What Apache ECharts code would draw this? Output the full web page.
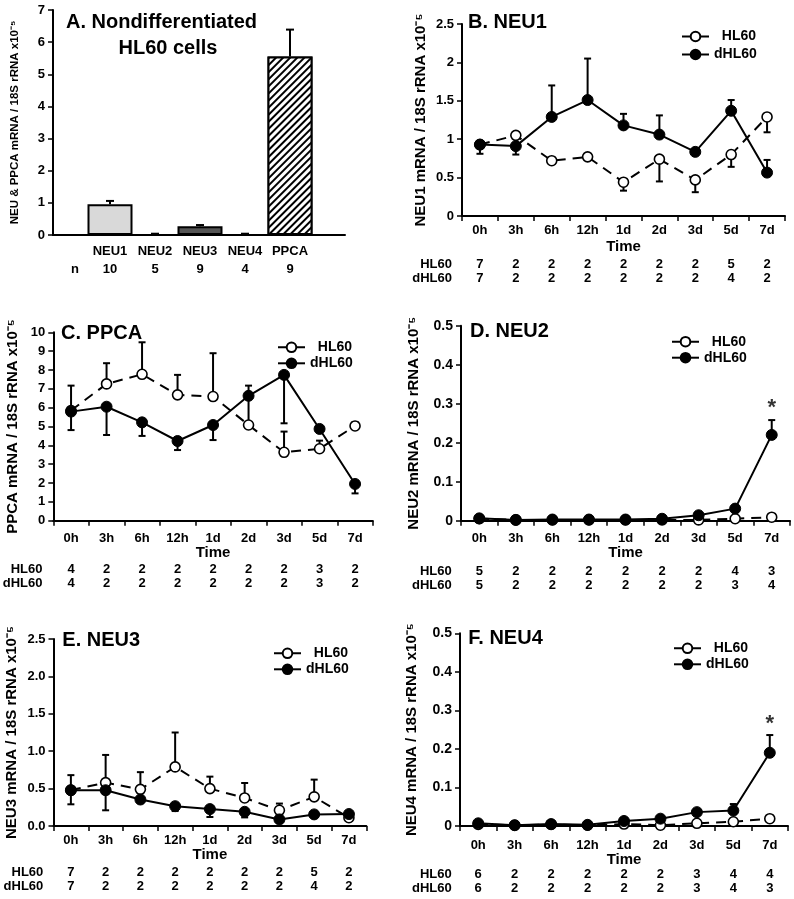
<!DOCTYPE html>
<html><head><meta charset="utf-8">
<script src="https://cdn.jsdelivr.net/npm/echarts@6/dist/echarts.min.js"></script>
<style>html,body{margin:0;padding:0;background:#fff}#c{width:794px;height:899px}</style>
</head><body><div id="c"></div>
<script>
const FONT = '"Liberation Sans", Arial, Helvetica, sans-serif';

// ---------- Panel A data ----------
const catsA = ['NEU1', 'NEU2', 'NEU3', 'NEU4', 'PPCA'];
const valsA = [0.96, 0.02, 0.27, 0.02, 5.55];
const errA  = [1.06, 0.04, 0.31, 0.04, 6.39];
const nA    = [10, 5, 9, 4, 9];

// ---------- time-course categories ----------
const timeCats = ['0h', '3h', '6h', '12h', '1d', '2d', '3d', '5d', '7d'];

// B. NEU1
const neu1HL60     = [0.93, 1.05, 0.72, 0.77, 0.44, 0.74, 0.47, 0.80, 1.29];
const neu1HL60Err  = [0.81, null, null, null, 0.33, 0.45, 0.31, 0.64, 1.09];
const neu1dHL60    = [0.93, 0.91, 1.29, 1.51, 1.18, 1.06, 0.835, 1.37, 0.565];
const neu1dHL60Err = [null, 0.80, 1.70, 2.05, 1.33, 1.31, null, 1.51, 0.73];
const neu1NHL60    = [7, 2, 2, 2, 2, 2, 2, 5, 2];
const neu1NdHL60   = [7, 2, 2, 2, 2, 2, 2, 4, 2];

// C. PPCA
const ppcaHL60     = [5.85, 7.26, 7.77, 6.68, 6.59, 5.08, 3.63, 3.82, 5.03];
const ppcaHL60Err  = [7.17, 8.36, 9.47, 7.74, 8.89, 7.17, 4.73, 4.25, 5.22];
const ppcadHL60    = [5.79, 6.05, 5.22, 4.23, 5.08, 6.63, 7.74, 4.87, 1.95];
const ppcadHL60Err = [4.81, 4.55, 4.50, 3.75, 4.28, null, 5.17, null, 1.45];
const ppcaNHL60    = [4, 2, 2, 2, 2, 2, 2, 3, 2];
const ppcaNdHL60   = [4, 2, 2, 2, 2, 2, 2, 3, 2];

// D. NEU2
const neu2HL60     = [0.005, 0.002, 0.002, 0.002, 0.002, 0.002, 0.002, 0.005, 0.009];
const neu2HL60Err  = [null, null, null, null, null, null, null, null, null];
const neu2dHL60    = [0.006, 0.002, 0.003, 0.003, 0.003, 0.005, 0.014, 0.031, 0.22];
const neu2dHL60Err = [null, null, null, null, null, null, null, null, 0.258];
const neu2NHL60    = [5, 2, 2, 2, 2, 2, 2, 4, 3];
const neu2NdHL60   = [5, 2, 2, 2, 2, 2, 2, 3, 4];
const neu2Star     = [null, null, null, null, null, null, null, null, 0.29];

// E. NEU3
const neu3HL60     = [0.48, 0.58, 0.49, 0.79, 0.50, 0.375, 0.21, 0.39, 0.11];
const neu3HL60Err  = [0.68, 0.95, 0.72, 1.25, 0.66, 0.575, 0.30, 0.62, null];
const neu3dHL60    = [0.478, 0.478, 0.354, 0.265, 0.226, 0.19, 0.088, 0.155, 0.16];
const neu3dHL60Err = [0.29, 0.21, null, 0.20, 0.12, 0.115, null, null, null];
const neu3NHL60    = [7, 2, 2, 2, 2, 2, 2, 5, 2];
const neu3NdHL60   = [7, 2, 2, 2, 2, 2, 2, 4, 2];

// F. NEU4
const neu4HL60     = [0.004, 0.002, 0.004, 0.002, 0.005, 0.002, 0.007, 0.011, 0.019];
const neu4HL60Err  = [null, null, null, null, null, null, null, null, null];
const neu4dHL60    = [0.007, 0.002, 0.005, 0.003, 0.013, 0.019, 0.036, 0.040, 0.19];
const neu4dHL60Err = [null, null, null, null, null, null, null, 0.057, 0.236];
const neu4NHL60    = [6, 2, 2, 2, 2, 2, 3, 4, 4];
const neu4NdHL60   = [6, 2, 2, 2, 2, 2, 3, 4, 3];
const neu4Star     = [null, null, null, null, null, null, null, null, 0.265];

// ---------- layout (positions / styles only) ----------
const panels = [
  { title: 'B. NEU1', tx: 468, ty: 22.7, yName: 'NEU1 mRNA / 18S rRNA x10⁻⁵', nameGap: 34, yFs: 13,
    grid: { left: 462, top: 24, width: 323, height: 192 }, yMax: 2.5, yInt: 0.5, yFix: null,
    hl: neu1HL60, hlE: neu1HL60Err, d: neu1dHL60, dE: neu1dHL60Err, nH: neu1NHL60, nD: neu1NdHL60, star: null,
    lblM: 7.5, timeGap: 23.5, cntM: 41, rowX: 452, rowY: 264, legL: 681, legT: 29.5, legGap: 4 },
  { title: 'C. PPCA', tx: 61, ty: 333.3, yName: 'PPCA mRNA / 18S rRNA x10⁻⁵', nameGap: 33, yFs: 13,
    grid: { left: 53.3, top: 332.3, width: 319.5, height: 188.4 }, yMax: 10, yInt: 1, yFix: null,
    hl: ppcaHL60, hlE: ppcaHL60Err, d: ppcadHL60, dE: ppcadHL60Err, nH: ppcaNHL60, nD: ppcaNdHL60, star: null,
    lblM: 10.8, timeGap: 23.5, cntM: 41.6, rowX: 42.5, rowY: 569.3, legL: 277, legT: 340.3, legGap: 2 },
  { title: 'D. NEU2', tx: 470, ty: 331, yName: 'NEU2 mRNA / 18S rRNA x10⁻⁵', nameGap: 40, yFs: 14,
    grid: { left: 461, top: 325.7, width: 329, height: 195 }, yMax: 0.5, yInt: 0.1, yFix: null,
    hl: neu2HL60, hlE: neu2HL60Err, d: neu2dHL60, dE: neu2dHL60Err, nH: neu2NHL60, nD: neu2NdHL60, star: neu2Star,
    lblM: 11.1, timeGap: 23.5, cntM: 43.3, rowX: 451.7, rowY: 571, legL: 671, legT: 334.7, legGap: 2 },
  { title: 'E. NEU3', tx: 62.3, ty: 640, yName: 'NEU3 mRNA / 18S rRNA x10⁻⁵', nameGap: 34, yFs: 13,
    grid: { left: 53.5, top: 639, width: 312.8, height: 187 }, yMax: 2.5, yInt: 0.5, yFix: 1,
    hl: neu3HL60, hlE: neu3HL60Err, d: neu3dHL60, dE: neu3dHL60Err, nH: neu3NHL60, nD: neu3NdHL60, star: null,
    lblM: 7.5, timeGap: 21.5, cntM: 39.7, rowX: 43.3, rowY: 872.7, legL: 273, legT: 646.3, legGap: 2 },
  { title: 'F. NEU4', tx: 468.3, ty: 638.3, yName: 'NEU4 mRNA / 18S rRNA x10⁻⁵', nameGap: 41, yFs: 14,
    grid: { left: 460, top: 633.3, width: 328, height: 192.7 }, yMax: 0.5, yInt: 0.1, yFix: null,
    hl: neu4HL60, hlE: neu4HL60Err, d: neu4dHL60, dE: neu4dHL60Err, nH: neu4NHL60, nD: neu4NdHL60, star: neu4Star,
    lblM: 12.5, timeGap: 23.2, cntM: 41.3, rowX: 451.7, rowY: 874.3, legL: 673, legT: 641.3, legGap: 2 }
];

function errRender(capHalf) {
  return function (params, api) {
    const x = api.value(0), v = api.value(1), e = api.value(2);
    const p0 = api.coord([x, v]);
    const p1 = api.coord([x, e]);
    return {
      type: 'group', children: [
        { type: 'line', shape: { x1: p0[0], y1: p0[1], x2: p1[0], y2: p1[1] }, style: { stroke: '#000', lineWidth: 2 } },
        { type: 'line', shape: { x1: p1[0] - capHalf, y1: p1[1], x2: p1[0] + capHalf, y2: p1[1] }, style: { stroke: '#000', lineWidth: 2 } }
      ]
    };
  };
}
function errData(vals, ends) {
  const out = [];
  vals.forEach((v, i) => { if (ends[i] != null) out.push([i, v, ends[i]]); });
  return out;
}
const bold = (size) => ({ fontFamily: FONT, fontWeight: 'bold', fontSize: size, color: '#000' });

const grids = [], xAxes = [], yAxes = [], series = [], legends = [], graphics = [];

// ---------- Panel A ----------
grids.push({ left: 53, top: 10, width: 292, height: 225 });          // 0: axes frame
grids.push({ left: 87.5, top: 10, width: 225, height: 225 });        // 1: bars
xAxes.push({ gridIndex: 0, type: 'value', min: 0, max: 1, axisLine: { show: true, lineStyle: { color: '#000', width: 2 } },
  axisTick: { show: false }, axisLabel: { show: false }, splitLine: { show: false } });
yAxes.push({ gridIndex: 0, type: 'value', min: 0, max: 7, interval: 1,
  axisLine: { show: true, lineStyle: { color: '#000', width: 2 } },
  axisTick: { show: true, length: 5, lineStyle: { color: '#000', width: 1.5 } },
  splitLine: { show: false }, axisLabel: Object.assign(bold(13), { margin: 8 }),
  name: 'NEU & PPCA mRNA / 18S rRNA x10⁻⁵', nameLocation: 'middle', nameGap: 32,
  nameTextStyle: bold(11.5) });
xAxes.push({ gridIndex: 1, type: 'category', data: catsA, axisLine: { show: false }, axisTick: { show: false },
  axisLabel: Object.assign(bold(13), { margin: 7, lineHeight: 18, interval: 0,
    formatter: (v, i) => v + '\n' + nA[i] }) });
yAxes.push({ gridIndex: 1, type: 'value', min: 0, max: 7, show: false });
const barStylesA = [
  { color: '#d9d9d9', borderColor: '#000', borderWidth: 2 },
  { color: '#000', borderWidth: 0 },
  { color: '#555', borderColor: '#000', borderWidth: 2 },
  { color: '#000', borderWidth: 0 },
  { color: '#fff', borderColor: '#000', borderWidth: 2,
    decal: { symbol: 'rect', symbolSize: 1, dashArrayX: [1, 0], dashArrayY: [1.6, 2.8], rotation: -Math.PI / 4, color: '#000', backgroundColor: '#fff' } }
];
series.push({ type: 'bar', xAxisIndex: 1, yAxisIndex: 1, barWidth: '100%', z: 2,
  data: valsA.map((v, i) => ({ value: v, itemStyle: barStylesA[i] })) });
series.push({ type: 'custom', xAxisIndex: 1, yAxisIndex: 1, z: 1, renderItem: errRender(4),
  encode: { x: 0, y: [1, 2] }, data: errData(valsA, errA) });
graphics.push({ type: 'text', x: 161.5, y: 22.7, style: { text: 'A. Nondifferentiated', fill: '#000', font: 'bold 20px ' + FONT, align: 'center', verticalAlign: 'middle', textAlign: 'center', textVerticalAlign: 'middle' } });
graphics.push({ type: 'text', x: 168, y: 48.3, style: { text: 'HL60 cells', fill: '#000', font: 'bold 20px ' + FONT, align: 'center', verticalAlign: 'middle', textAlign: 'center', textVerticalAlign: 'middle' } });
graphics.push({ type: 'text', x: 75, y: 269, style: { text: 'n', fill: '#000', font: 'bold 13px ' + FONT, align: 'center', verticalAlign: 'middle', textAlign: 'center', textVerticalAlign: 'middle' } });

// ---------- Panels B-F ----------
panels.forEach((p) => {
  const gi = grids.length;
  grids.push(p.grid);
  const xi = xAxes.length;
  xAxes.push({ gridIndex: gi, type: 'category', data: timeCats, position: 'bottom', boundaryGap: true,
    axisLine: { show: true, lineStyle: { color: '#000', width: 2 } },
    axisTick: { show: true, length: 5, lineStyle: { color: '#000', width: 1.5 } },
    axisLabel: Object.assign(bold(13), { margin: p.lblM, interval: 0 }),
    name: 'Time', nameLocation: 'middle', nameGap: p.timeGap, nameTextStyle: bold(15) });
  xAxes.push({ gridIndex: gi, type: 'category', data: timeCats, position: 'bottom',
    axisLine: { show: false }, axisTick: { show: false },
    axisLabel: Object.assign(bold(13), { margin: p.cntM, interval: 0, lineHeight: 14,
      formatter: (v, i) => p.nH[i] + '\n' + p.nD[i] }) });
  const yi = yAxes.length;
  yAxes.push({ gridIndex: gi, type: 'value', min: 0, max: p.yMax, interval: p.yInt,
    axisLine: { show: true, lineStyle: { color: '#000', width: 2 } },
    axisTick: { show: true, length: 5, lineStyle: { color: '#000', width: 1.5 } },
    splitLine: { show: false },
    axisLabel: Object.assign(bold(p.yFs), { margin: 8,
      formatter: (v) => p.yFix != null ? v.toFixed(p.yFix) : String(+v.toFixed(3)) }),
    name: p.yName, nameLocation: 'middle', nameGap: p.nameGap, nameTextStyle: bold(15) });
  series.push({ type: 'custom', name: 'HL60err', xAxisIndex: xi, yAxisIndex: yi, z: 1,
    renderItem: errRender(3.5), encode: { x: 0, y: [1, 2] }, data: errData(p.hl, p.hlE) });
  series.push({ type: 'custom', name: 'dHL60err', xAxisIndex: xi, yAxisIndex: yi, z: 1,
    renderItem: errRender(3.5), encode: { x: 0, y: [1, 2] }, data: errData(p.d, p.dE) });
  series.push({ type: 'line', name: 'HL60', xAxisIndex: xi, yAxisIndex: yi, z: 2, data: p.hl,
    symbol: 'circle', symbolSize: 10, showAllSymbol: true,
    lineStyle: { color: '#000', width: 2, type: [10, 7] },
    itemStyle: { color: '#fff', borderColor: '#000', borderWidth: 1.6 } });
  series.push({ type: 'line', name: 'dHL60', xAxisIndex: xi, yAxisIndex: yi, z: 3, data: p.d,
    symbol: 'circle', symbolSize: 11, showAllSymbol: true,
    lineStyle: { color: '#000', width: 2 },
    itemStyle: { color: '#000', borderColor: '#000', borderWidth: 1 } });
  if (p.star) {
    series.push({ type: 'scatter', xAxisIndex: xi, yAxisIndex: yi, z: 4, symbolSize: 1,
      itemStyle: { color: 'rgba(0,0,0,0)' },
      data: p.star.map((v, i) => [i, v]).filter(d => d[1] != null),
      label: { show: true, position: 'inside', formatter: '*', fontFamily: FONT, fontWeight: 'bold', fontSize: 22, color: '#000' } });
  }
  legends.push({ data: ['HL60', 'dHL60'], orient: 'vertical', left: p.legL, top: p.legT, padding: 0,
    itemWidth: 27, itemHeight: 12, itemGap: p.legGap, selectedMode: false,
    formatter: (n) => n === 'HL60' ? '  HL60' : n,
    textStyle: bold(14) });
  graphics.push({ type: 'text', x: p.tx, y: p.ty, style: { text: p.title, fill: '#000', font: 'bold 20px ' + FONT, align: 'left', verticalAlign: 'middle', textAlign: 'left', textVerticalAlign: 'middle' } });
  graphics.push({ type: 'text', x: p.rowX, y: p.rowY, style: { text: 'HL60', fill: '#000', font: 'bold 13px ' + FONT, align: 'right', verticalAlign: 'middle', textAlign: 'right', textVerticalAlign: 'middle' } });
  graphics.push({ type: 'text', x: p.rowX, y: p.rowY + 14, style: { text: 'dHL60', fill: '#000', font: 'bold 13px ' + FONT, align: 'right', verticalAlign: 'middle', textAlign: 'right', textVerticalAlign: 'middle' } });
});

const chart = echarts.init(document.getElementById('c'), null, { renderer: 'canvas' });
chart.setOption({
  animation: false,
  backgroundColor: '#fff',
  textStyle: { fontFamily: FONT },
  grid: grids, xAxis: xAxes, yAxis: yAxes, series: series, legend: legends, graphic: graphics
});
</script>
</body></html>
